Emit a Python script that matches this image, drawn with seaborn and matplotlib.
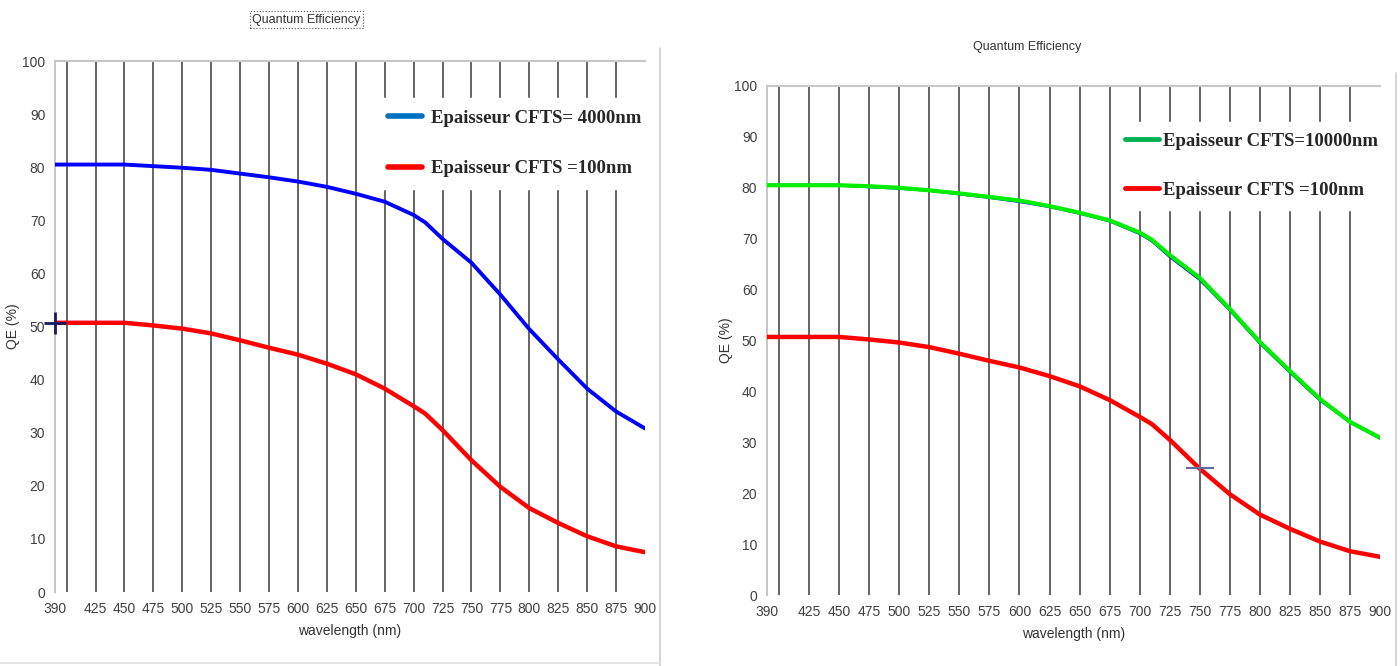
import matplotlib.pyplot as plt
import seaborn as sns
import pandas as pd
from matplotlib.lines import Line2D

# wavelength (nm) and quantum efficiency (%)
wavelength = [390, 400, 425, 450, 475, 500, 525, 550, 575, 600, 625, 650, 675,
              700, 710, 725, 750, 775, 800, 825, 850, 875, 900]
qe_4000nm = [80.5, 80.5, 80.5, 80.5, 80.2, 79.9, 79.5, 78.8, 78.1, 77.3, 76.3, 75.0, 73.5,
             71.0, 69.6, 66.5, 62.0, 56.0, 49.5, 43.8, 38.3, 34.0, 30.8]
qe_10000nm = [80.5, 80.5, 80.5, 80.5, 80.3, 80.0, 79.5, 78.9, 78.2, 77.5, 76.4, 75.1, 73.6,
              71.2, 69.8, 66.8, 62.3, 56.2, 49.7, 44.0, 38.5, 34.0, 30.9]
qe_100nm = [50.7, 50.7, 50.7, 50.7, 50.2, 49.6, 48.7, 47.4, 46.0, 44.7, 43.0, 41.0, 38.3,
            35.0, 33.6, 30.5, 24.8, 19.8, 15.8, 13.0, 10.5, 8.6, 7.5]

x_ticks = [390, 425, 450, 475, 500, 525, 550, 575, 600, 625, 650, 675, 700,
           725, 750, 775, 800, 825, 850, 875, 900]
grid_nm = [400, 425, 450, 475, 500, 525, 550, 575, 600, 625, 650, 675, 700,
           725, 750, 775, 800, 825, 850, 875]
y_ticks = [0, 10, 20, 30, 40, 50, 60, 70, 80, 90, 100]

df = pd.DataFrame({'wl': wavelength, 'qe4000': qe_4000nm,
                   'qe10000': qe_10000nm, 'qe100': qe_100nm})

sns.set_style('white')
plt.rcParams['font.family'] = ['Liberation Sans', 'DejaVu Sans']
leg_font = {'family': ['Liberation Serif', 'DejaVu Serif'], 'weight': 'bold', 'size': 13.5}

fig = plt.figure(figsize=(14, 6.66), dpi=100)
ax1 = fig.add_axes([0.0393, 0.1111, 0.4214, 0.7973])
ax2 = fig.add_axes([0.5479, 0.1066, 0.4379, 0.7643])


def style_axes(ax, ylab_x):
    ax.vlines(grid_nm, 0, 100, colors='#3a3a3a', linewidth=1.1, zorder=1)
    ax.set_xlim(390, 900)
    ax.set_ylim(0, 100)
    ax.set_xticks(x_ticks)
    ax.set_yticks(y_ticks)
    ax.tick_params(direction='out', length=5, width=1, colors='#404040',
                   labelsize=10, pad=2)
    for s in ['right', 'bottom']:
        ax.spines[s].set_visible(False)
    for s in ['left', 'top']:
        ax.spines[s].set_color('#c8c8c8')
        ax.spines[s].set_linewidth(1.5)
    ax.set_xlabel('wavelength (nm)', fontsize=10, color='#333333', labelpad=6)
    ax.set_ylabel('QE (%)', fontsize=10, color='#333333')
    ax.yaxis.set_label_coords(ylab_x, 0.5)


# left panel
sns.lineplot(data=df, x='wl', y='qe4000', ax=ax1, color='#0000ff', linewidth=2.8, zorder=3)
sns.lineplot(data=df, x='wl', y='qe100', ax=ax1, color='#ff0000', linewidth=3.2, zorder=3)
style_axes(ax1, -0.059)
ax1.plot(390, 50.7, marker='+', markersize=16, markeredgewidth=2, color='#1a1a60',
         clip_on=False, zorder=5)
h1 = [Line2D([], [], color='#0070c0', linewidth=4),
      Line2D([], [], color='#ff0000', linewidth=4)]
leg1 = ax1.legend(h1, ['Epaisseur CFTS= 4000nm', 'Epaisseur CFTS =100nm'],
                  loc='upper left', bbox_to_anchor=(0.545, 0.93), prop=leg_font,
                  frameon=True, framealpha=1, edgecolor='white', facecolor='white',
                  fancybox=False, handlelength=1.85, handletextpad=0.45,
                  labelspacing=1.8, borderpad=0.6, borderaxespad=0)
leg1.set_zorder(2.5)

# right panel
sns.lineplot(data=df, x='wl', y='qe4000', ax=ax2, color='#0000ff', linewidth=2.2, zorder=3)
sns.lineplot(data=df, x='wl', y='qe10000', ax=ax2, color='#00ee00', linewidth=3.0, zorder=3)
sns.lineplot(data=df, x='wl', y='qe100', ax=ax2, color='#ff0000', linewidth=3.2, zorder=3)
style_axes(ax2, -0.055)
ax2.plot(750, 25, marker='_', markersize=20, markeredgewidth=1.5, color='#6a6a9a', zorder=5)
ax2.plot(750, 25, marker='|', markersize=8, markeredgewidth=1.5, color='#6a6a9a', zorder=5)
h2 = [Line2D([], [], color='#00b050', linewidth=3.5),
      Line2D([], [], color='#ff0000', linewidth=3.5)]
leg2 = ax2.legend(h2, ['Epaisseur CFTS=10000nm', 'Epaisseur CFTS =100nm'],
                  loc='upper left', bbox_to_anchor=(0.565, 0.93), prop=leg_font,
                  frameon=True, framealpha=1, edgecolor='white', facecolor='white',
                  fancybox=False, handlelength=1.85, handletextpad=0.2,
                  labelspacing=1.7, borderpad=0.6, borderaxespad=0)
leg2.set_zorder(2.5)

# titles
fig.text(0.219, 0.97, 'Quantum Efficiency', ha='center', va='center', fontsize=9,
         color='#333333', bbox=dict(boxstyle='square,pad=0.2', facecolor='white',
                                    edgecolor='#555555', linestyle=':', linewidth=0.8))
fig.text(0.734, 0.929, 'Quantum Efficiency', ha='center', va='center', fontsize=9,
         color='#333333')

# panel borders
fig.add_artist(Line2D([0.4714, 0.4714], [0.0, 0.928], color='#d0d0d0', linewidth=1.2))
fig.add_artist(Line2D([0.997, 0.997], [0.0, 0.89], color='#d0d0d0', linewidth=1.2))
fig.add_artist(Line2D([0.0, 0.4714], [0.004, 0.004], color='#e0e0e0', linewidth=1.2))

fig.savefig('out.png', dpi=100)
